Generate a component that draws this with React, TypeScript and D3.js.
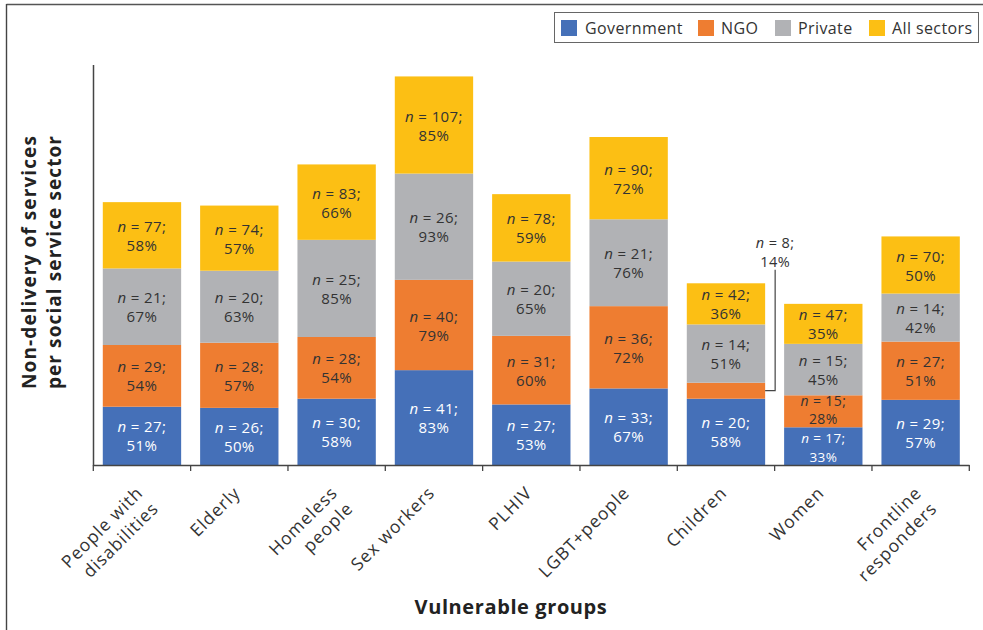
import React from "react";
import * as d3 from "d3";

// Vulnerable groups on the x axis
const groups: string[][] = [
  ["People with", "disabilities"],
  ["Elderly"],
  ["Homeless", "people"],
  ["Sex workers"],
  ["PLHIV"],
  ["LGBT+people"],
  ["Children"],
  ["Women"],
  ["Frontline", "responders"],
];

const sectors = ["Government", "NGO", "Private", "All sectors"];
const sectorColors = ["#4570B8", "#EE7D31", "#B1B2B5", "#FCBF14"];
const sectorText = ["#ffffff", "#333333", "#333333", "#333333"];

// Respondent counts per sector
const govN = [27, 26, 30, 41, 27, 33, 20, 17, 29];
const ngoN = [29, 28, 28, 40, 31, 36, 8, 15, 27];
const privN = [21, 20, 25, 26, 20, 21, 14, 15, 14];
const allN = [77, 74, 83, 107, 78, 90, 42, 47, 70];

// Share reporting non-delivery (%) per sector
const govPct = [51, 50, 58, 83, 53, 67, 58, 33, 57];
const ngoPct = [54, 57, 54, 79, 60, 72, 14, 28, 51];
const privPct = [67, 63, 85, 93, 65, 76, 51, 45, 42];
const allPct = [58, 57, 66, 85, 59, 72, 36, 35, 50];

const W = 983;
const H = 630;
const FONT = "'Open Sans', 'DejaVu Sans', sans-serif";

// Two-line "n = X; / Y%" label; the count line is built from sibling tspans
function SegLabel(props: {
  cx: number;
  y1: number;
  y2: number;
  n: number;
  pct: number;
  fill: string;
  size: number;
}) {
  const { cx, y1, y2, n, pct, fill, size } = props;
  return (
    <g fill={fill} fontSize={size} letterSpacing={0.4}>
      <text x={cx} y={y1} textAnchor="middle">
        <tspan fontStyle="italic">n</tspan>
        <tspan>{` = ${n};`}</tspan>
      </text>
      <text x={cx} y={y2} textAnchor="middle">{`${pct}%`}</text>
    </g>
  );
}

export default function App() {
  const nArr = [govN, ngoN, privN, allN];
  const pArr = [govPct, ngoPct, privPct, allPct];

  const x = d3
    .scaleBand<number>()
    .domain(d3.range(groups.length))
    .range([93.3, 969.3])
    .paddingInner(0.195)
    .paddingOuter(0.0975);
  const y = d3.scaleLinear().domain([0, 350]).range([465, 65]);

  const step = x.step();
  const x0 = 93.3;
  const tickXs = d3.range(groups.length + 1).map((i) => x0 + i * step);

  const rows = groups.map((_, gi) => {
    let acc = 0;
    return pArr.map((p, si) => {
      const y0 = acc;
      acc += p[gi];
      return { si, gi, y0, y1: acc, n: nArr[si][gi], pct: p[gi] };
    });
  });

  const legendItems = [
    { x: 561, tx: 585 },
    { x: 698, tx: 721 },
    { x: 775, tx: 798 },
    { x: 869, tx: 892 },
  ];

  // label baselines by segment height
  const labelPos = (cy: number, h: number, si: number) => {
    if (h < 36) return { y1: cy - 5, y2: cy + 13, size: 14 };
    if (h < 40 && si === 0) return { y1: cy - 3, y2: cy + 15.5, size: 13.5 };
    return { y1: cy - 3.5, y2: cy + 15.5, size: 15 };
  };

  return (
    <svg
      width={W}
      height={H}
      style={{ position: "absolute", left: 0, top: 0, background: "#fff" }}
      fontFamily={FONT}
    >
      {/* frame */}
      <line x1={6.5} x2={W} y1={4.5} y2={4.5} stroke="#555" strokeWidth={1.6} />
      <line x1={6.5} x2={6.5} y1={4} y2={H} stroke="#444" strokeWidth={1.4} />

      {/* legend */}
      <rect x={554.5} y={12.5} width={424} height={30} fill="#fff" stroke="#666" strokeWidth={1} />
      {sectors.map((s, i) => (
        <g key={s}>
          <rect x={legendItems[i].x} y={20} width={16} height={16} fill={sectorColors[i]} />
          <text x={legendItems[i].tx} y={33.5} fontSize={16} letterSpacing={0.4} fill="#333">
            {s}
          </text>
        </g>
      ))}

      {/* bars */}
      {rows.map((segs, gi) =>
        segs.map((d) => {
          const bx = x(gi)!;
          const bw = x.bandwidth();
          const top = y(d.y1);
          const bot = y(d.y0);
          const cy = (top + bot) / 2;
          const cx = bx + bw / 2;
          const h = bot - top;
          const inside = h > 30;
          const lp = labelPos(cy, h, d.si);
          return (
            <g key={`${gi}-${d.si}`}>
              <rect x={bx} y={top} width={bw} height={h} fill={sectorColors[d.si]} />
              {inside ? (
                <SegLabel
                  cx={cx}
                  y1={lp.y1}
                  y2={lp.y2}
                  n={d.n}
                  pct={d.pct}
                  fill={sectorText[d.si]}
                  size={lp.size}
                />
              ) : (
                <g>
                  <polyline
                    points={`${bx + bw},${cy} ${bx + bw + 10},${cy} ${bx + bw + 10},${y(d.y1) - 113}`}
                    fill="none"
                    stroke="#444"
                    strokeWidth={1.2}
                  />
                  <SegLabel
                    cx={bx + bw + 10}
                    y1={y(d.y1) - 135}
                    y2={y(d.y1) - 116}
                    n={d.n}
                    pct={d.pct}
                    fill="#333"
                    size={14.5}
                  />
                </g>
              )}
            </g>
          );
        })
      )}

      {/* axes */}
      <line x1={93.5} x2={93.5} y1={65} y2={465.5} stroke="#444" strokeWidth={1.5} />
      <line x1={93} x2={969.5} y1={465.5} y2={465.5} stroke="#444" strokeWidth={1.5} />
      {tickXs.map((tx, i) => (
        <line key={i} x1={tx} x2={tx} y1={465} y2={471} stroke="#444" strokeWidth={1.3} />
      ))}

      {/* category labels */}
      {groups.map((lines, gi) => {
        const cx = x(gi)! + x.bandwidth() / 2;
        return (
          <text
            key={gi}
            transform={`translate(${cx + 2},${494}) rotate(-45)`}
            textAnchor="end"
            fontSize={17.5}
            letterSpacing={1}
            fill="#333"
          >
            {lines.map((l, li) => (
              <tspan key={li} x={0} dy={li === 0 ? 0 : 22}>
                {l}
              </tspan>
            ))}
          </text>
        );
      })}

      {/* axis titles */}
      <text
        transform="translate(36,262) rotate(-90)"
        textAnchor="middle"
        fontSize={19}
        letterSpacing={1.1}
        fontWeight="bold"
        fill="#222"
      >
        <tspan x={0} dy={0}>Non-delivery of services</tspan>
        <tspan x={0} dy={25}>per social service sector</tspan>
      </text>
      <text
        x={511}
        y={614}
        textAnchor="middle"
        fontSize={20}
        letterSpacing={0.6}
        fontWeight="bold"
        fill="#222"
      >
        Vulnerable groups
      </text>
    </svg>
  );
}
